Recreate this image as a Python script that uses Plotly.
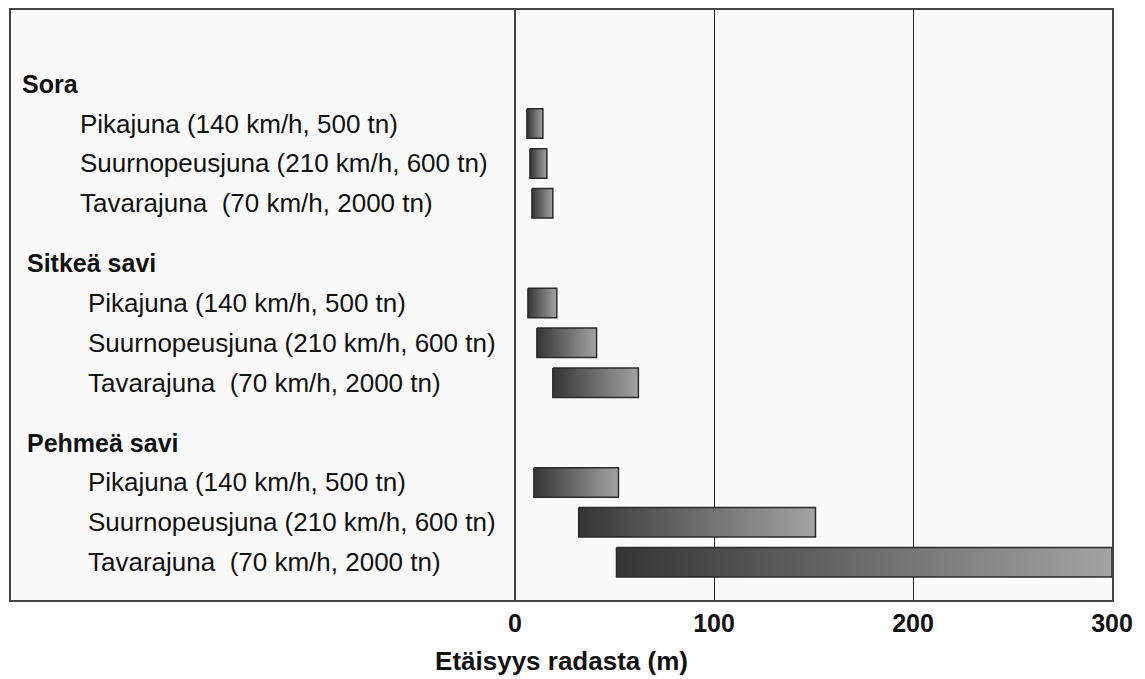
import plotly.graph_objects as go

# maaperä-ryhmät ja junatyypit
groups = ["Sora", "Sitkeä savi", "Pehmeä savi"]
trains = ["Pikajuna (140 km/h, 500 tn)",
          "Suurnopeusjuna (210 km/h, 600 tn)",
          "Tavarajuna \u00a0(70 km/h, 2000 tn)"]

# tärinän vaikutusalue (m) radasta, alku ja loppu
start_sora = [6, 7.5, 8.5]
end_sora = [14, 16, 19]
start_sitkea = [6.5, 11, 19]
end_sitkea = [21, 41, 62]
start_pehmea = [9.5, 32, 51]
end_pehmea = [52, 151, 300]

starts = [start_sora, start_sitkea, start_pehmea]
ends = [end_sora, end_sitkea, end_pehmea]

tick_vals = [0, 100, 200, 300]

# layout: group spacing and label indents (page px)
GROUP_STEP = 4.5
HALF = 0.37
head_indent = [20, 25, 25]
item_indent = [78, 86, 86]
W, H = 1145, 679
PAGE_OFF = 8  # body margin of the html page
L, R, T, B = 3, 41, 0, 87
pw = W - L - R
x_left = PAGE_OFF + L
xmin = -300 * (515 - x_left) / (1112 - 515)

def px_to_paper(px):
    return (px - x_left) / pw

fig = go.Figure()
annotations = []
for g, name in enumerate(groups):
    yh = g * GROUP_STEP
    annotations.append(dict(x=px_to_paper(head_indent[g]), xref="paper", y=yh, yref="y",
                            text="<b>" + name + "</b>", showarrow=False, xanchor="left",
                            font=dict(size=25, color="#111")))
    for i, lab in enumerate(trains):
        yi = yh + 1 + i
        s, e = starts[g][i], ends[g][i]
        fig.add_trace(go.Scatter(
            x=[s, e, e, s, s], y=[yi - HALF, yi - HALF, yi + HALF, yi + HALF, yi - HALF],
            mode="lines", fill="toself",
            line=dict(color="#2a2a2a", width=1.5),
            fillgradient=dict(type="horizontal",
                              colorscale=[[0, "#353535"], [1, "#a3a3a3"]]),
            name=name + ": " + lab, showlegend=False,
        ))
        annotations.append(dict(x=px_to_paper(item_indent[g]), xref="paper", y=yi, yref="y",
                                text=lab, showarrow=False, xanchor="left",
                                font=dict(size=26, color="#111")))

fig.update_layout(
    width=W, height=H,
    margin=dict(l=L, r=R, t=T, b=B),
    paper_bgcolor="white",
    plot_bgcolor="#fafafa",
    font=dict(family="Liberation Sans, Arial, sans-serif", color="#111"),
    annotations=annotations,
    showlegend=False,
)
fig.update_xaxes(
    range=[xmin, 300], tickvals=tick_vals, ticktext=[str(v) for v in tick_vals],
    tickfont=dict(size=25, weight="bold"),
    showgrid=True, gridcolor="#222", gridwidth=1,
    zeroline=True, zerolinecolor="#444", zerolinewidth=2,
    showline=True, linecolor="#444", linewidth=1.5, mirror=True,
    title=dict(text="<b>Etäisyys radasta (m)</b>", font=dict(size=26), standoff=16),
)
fig.update_yaxes(
    range=[(600 - 82) / 40, (8 - 82) / 40],
    showticklabels=False, showgrid=False, zeroline=False,
    showline=True, linecolor="#444", linewidth=1.5, mirror=True,
)

fig.write_html("out.html")
